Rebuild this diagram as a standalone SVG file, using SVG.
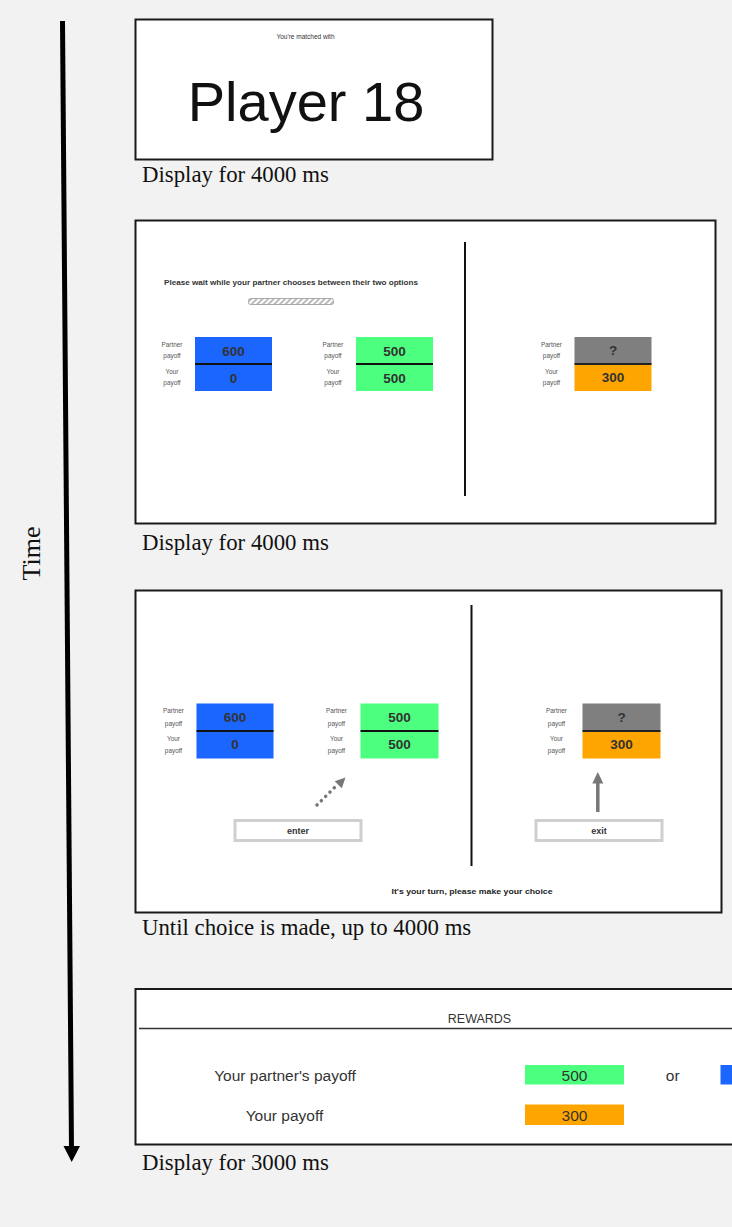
<svg xmlns="http://www.w3.org/2000/svg" width="732" height="1227" viewBox="0 0 732 1227">
<defs>
<style>
.panel{fill:#fff;stroke:#1a1a1a;stroke-width:2}
.cap{font-family:"Liberation Serif","Times New Roman",serif;font-size:22.8px;fill:#111}
.lbl{font-family:"Liberation Sans",Arial,sans-serif;font-size:6.4px;fill:#555;text-anchor:middle}
.num{font-family:"Liberation Sans",Arial,sans-serif;font-size:13.5px;font-weight:bold;fill:#333;text-anchor:middle;dominant-baseline:central}
.sans{font-family:"Liberation Sans",Arial,sans-serif}
.div{stroke:#111;stroke-width:2}
.btn{fill:#fff;stroke:#cfcfcf;stroke-width:3}
.btxt{font-family:"Liberation Sans",Arial,sans-serif;font-size:9px;font-weight:bold;fill:#333;text-anchor:middle;dominant-baseline:central}
.rw{font-family:"Liberation Sans",Arial,sans-serif;font-size:15.5px;fill:#333;text-anchor:middle;dominant-baseline:central}
</style>
<pattern id="stripes" width="4" height="4" patternUnits="userSpaceOnUse" patternTransform="rotate(45)">
<rect width="4" height="4" fill="#fff"/>
<rect width="2" height="4" fill="#bbb"/>
</pattern>
</defs>
<rect width="732" height="1227" fill="#f2f2f2"/>

<g id="timeline">
<line x1="62.5" y1="21" x2="71.5" y2="1149" stroke="#000" stroke-width="5"/>
<polygon points="63.5,1146 80,1146 71.7,1162" fill="#000"/>
<text transform="translate(40,553.5) rotate(-90)" text-anchor="middle" font-family="Liberation Serif,serif" font-size="26" fill="#111">Time</text>
</g>

<g id="screen1">
<rect class="panel" x="135.5" y="19.5" width="357" height="140"/>
<text x="305.5" y="39" class="sans" font-size="6.5" fill="#333" text-anchor="middle">You're matched with</text>
<text x="306" y="121" class="sans" font-size="56" fill="#111" text-anchor="middle">Player 18</text>
<text x="142" y="182" class="cap">Display for 4000 ms</text>
</g>

<g id="screen2">
<rect class="panel" x="135.5" y="220.5" width="580" height="303"/>
<text x="291" y="284.5" class="sans" font-size="7.5" font-weight="bold" fill="#333" text-anchor="middle" textLength="254" lengthAdjust="spacingAndGlyphs">Please wait while your partner chooses between their two options</text>
<rect x="248.5" y="298.5" width="85" height="6" rx="2" fill="url(#stripes)" stroke="#aaa" stroke-width="1"/>
<g id="s2-optA">
<text class="lbl" x="172" y="347">Partner</text>
<text class="lbl" x="172" y="358">payoff</text>
<text class="lbl" x="172" y="374">Your</text>
<text class="lbl" x="172" y="385">payoff</text>
<rect x="195" y="337" width="77" height="54" fill="#1a66ff"/>
<line x1="195" y1="364" x2="272" y2="364" stroke="#111" stroke-width="2"/>
<text class="num" x="233.5" y="351">600</text>
<text class="num" x="233.5" y="378">0</text>
</g>
<g id="s2-optB">
<text class="lbl" x="333" y="347">Partner</text>
<text class="lbl" x="333" y="358">payoff</text>
<text class="lbl" x="333" y="374">Your</text>
<text class="lbl" x="333" y="385">payoff</text>
<rect x="356" y="337" width="77" height="54" fill="#4dff7f"/>
<line x1="356" y1="364" x2="433" y2="364" stroke="#111" stroke-width="2"/>
<text class="num" x="394.5" y="351">500</text>
<text class="num" x="394.5" y="378">500</text>
</g>
<line class="div" x1="465" y1="242" x2="465" y2="496"/>
<g id="s2-optC">
<text class="lbl" x="551.5" y="347">Partner</text>
<text class="lbl" x="551.5" y="358">payoff</text>
<text class="lbl" x="551.5" y="374">Your</text>
<text class="lbl" x="551.5" y="385">payoff</text>
<rect x="574.5" y="337" width="77" height="27" fill="#7f7f7f"/>
<rect x="574.5" y="364" width="77" height="27" fill="#ffa500"/>
<line x1="574.5" y1="364" x2="651.5" y2="364" stroke="#222" stroke-width="2"/>
<text class="num" x="613" y="350.5">?</text>
<text class="num" x="613" y="377.5">300</text>
</g>
<text x="142" y="550" class="cap">Display for 4000 ms</text>
</g>

<g id="screen3">
<rect class="panel" x="135.5" y="590.5" width="586" height="322"/>
<g id="s3-optA">
<text class="lbl" x="173.5" y="713">Partner</text>
<text class="lbl" x="173.5" y="725.5">payoff</text>
<text class="lbl" x="173.5" y="740.5">Your</text>
<text class="lbl" x="173.5" y="753">payoff</text>
<rect x="196.5" y="703.5" width="77" height="55" fill="#1a66ff"/>
<line x1="196.5" y1="731" x2="273.5" y2="731" stroke="#111" stroke-width="2"/>
<text class="num" x="235" y="717">600</text>
<text class="num" x="235" y="744.5">0</text>
</g>
<g id="s3-optB">
<text class="lbl" x="336.5" y="713">Partner</text>
<text class="lbl" x="336.5" y="725.5">payoff</text>
<text class="lbl" x="336.5" y="740.5">Your</text>
<text class="lbl" x="336.5" y="753">payoff</text>
<rect x="360.5" y="703.5" width="78" height="55" fill="#4dff7f"/>
<line x1="360.5" y1="731" x2="438.5" y2="731" stroke="#111" stroke-width="2"/>
<text class="num" x="399.5" y="717">500</text>
<text class="num" x="399.5" y="744.5">500</text>
</g>
<line class="div" x1="471.5" y1="605" x2="471.5" y2="866"/>
<g id="s3-optC">
<text class="lbl" x="556.5" y="713">Partner</text>
<text class="lbl" x="556.5" y="725.5">payoff</text>
<text class="lbl" x="556.5" y="740.5">Your</text>
<text class="lbl" x="556.5" y="753">payoff</text>
<rect x="582.5" y="703.5" width="78" height="27.5" fill="#7f7f7f"/>
<rect x="582.5" y="731" width="78" height="27.5" fill="#ffa500"/>
<line x1="582.5" y1="731" x2="660.5" y2="731" stroke="#222" stroke-width="2"/>
<text class="num" x="621.5" y="717">?</text>
<text class="num" x="621.5" y="744.5">300</text>
</g>
<g id="enter-button">
<line x1="317" y1="805" x2="338" y2="784" stroke="#777" stroke-width="3.5" stroke-linecap="round" stroke-dasharray="0.1 6"/>
<polygon points="345.5,777.5 341.8,788.3 334.7,781.2" fill="#777"/>
<rect class="btn" x="235" y="820.5" width="126" height="20"/>
<text class="btxt" x="298" y="830.5">enter</text>
</g>
<g id="exit-button">
<line x1="597.8" y1="812" x2="597.8" y2="782" stroke="#777" stroke-width="3.5"/>
<polygon points="597.8,772 603.3,783.5 592.3,783.5" fill="#777"/>
<rect class="btn" x="536" y="820.5" width="126" height="20"/>
<text class="btxt" x="599" y="830.5">exit</text>
</g>
<text x="472" y="891" class="sans" font-size="7.5" font-weight="bold" fill="#222" text-anchor="middle" dominant-baseline="central" textLength="161" lengthAdjust="spacingAndGlyphs">It's your turn, please make your choice</text>
<text x="142" y="935" class="cap">Until choice is made, up to 4000 ms</text>
</g>

<g id="screen4">
<rect class="panel" x="135.5" y="989" width="640" height="155.5"/>
<text x="479.5" y="1019" class="sans" font-size="12.5" fill="#333" text-anchor="middle" dominant-baseline="central">REWARDS</text>
<line x1="139" y1="1028.5" x2="732" y2="1028.5" stroke="#333" stroke-width="1.5"/>
<text class="rw" x="285" y="1075">Your partner's payoff</text>
<text class="rw" x="284.5" y="1115">Your payoff</text>
<rect x="525" y="1065" width="99" height="19.5" fill="#4dff7f"/>
<text class="rw" x="574.5" y="1075" font-size="14.5">500</text>
<rect x="525" y="1104.5" width="99" height="20.5" fill="#ffa500"/>
<text class="rw" x="574.5" y="1115" font-size="14.5">300</text>
<text class="rw" x="672.7" y="1075">or</text>
<rect x="720.5" y="1065" width="30" height="19.5" fill="#1a66ff"/>
<text x="142" y="1170" class="cap">Display for 3000 ms</text>
</g>
</svg>
